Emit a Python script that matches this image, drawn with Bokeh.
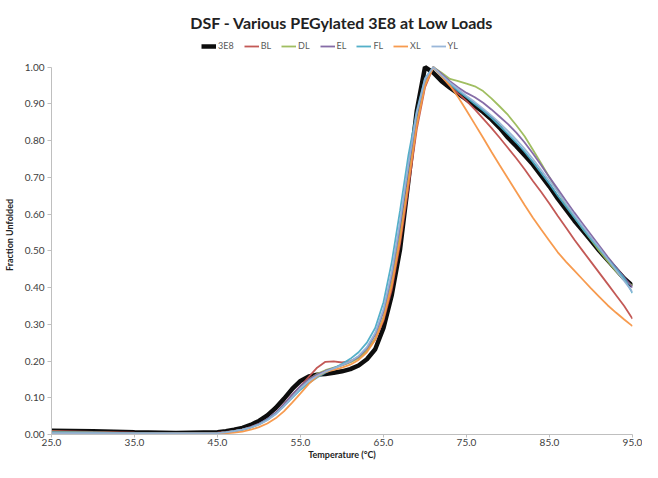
from bokeh.plotting import figure
from bokeh.models import Range1d, NumeralTickFormatter, FixedTicker, Legend, LegendItem
from bokeh.embed import file_html
from bokeh.resources import INLINE

temperature = [25, 30, 35, 40, 45,
               46, 47, 48, 49, 50, 51, 52, 53, 54, 55,
               56, 57, 58, 59, 60, 61, 62, 63, 64, 65,
               66, 67, 68, 69, 70, 71, 72, 73, 74, 75,
               76, 77, 78, 79, 80, 81, 82, 83, 84, 85,
               86, 87, 88, 89, 90, 91, 92, 93, 94, 95]

s_3E8 = [0.010, 0.009, 0.006, 0.004, 0.006,
         0.009, 0.013, 0.018, 0.026, 0.037, 0.052, 0.072, 0.097, 0.124, 0.146,
         0.158, 0.163, 0.165, 0.168, 0.172, 0.178, 0.188, 0.205, 0.232, 0.290,
         0.380, 0.505, 0.690, 0.880, 1.000, 0.985, 0.962, 0.944, 0.928, 0.912,
         0.895, 0.878, 0.858, 0.835, 0.808, 0.785, 0.760, 0.735, 0.705, 0.675,
         0.642, 0.612, 0.582, 0.555, 0.528, 0.500, 0.475, 0.450, 0.425, 0.405]

s_BL = [0.010, 0.007, 0.005, 0.004, 0.005,
        0.007, 0.010, 0.014, 0.020, 0.029, 0.041, 0.058, 0.082, 0.108, 0.132,
        0.157, 0.182, 0.198, 0.199, 0.196, 0.200, 0.210, 0.228, 0.258, 0.310,
        0.395, 0.520, 0.670, 0.830, 0.945, 1.000, 0.975, 0.950, 0.928, 0.908,
        0.885, 0.860, 0.835, 0.808, 0.780, 0.752, 0.722, 0.690, 0.660, 0.628,
        0.595, 0.563, 0.530, 0.500, 0.470, 0.440, 0.410, 0.380, 0.350, 0.315]

s_DL = [0.008, 0.006, 0.004, 0.003, 0.004,
        0.006, 0.009, 0.013, 0.019, 0.028, 0.040, 0.057, 0.080, 0.106, 0.130,
        0.150, 0.165, 0.175, 0.182, 0.188, 0.196, 0.208, 0.228, 0.262, 0.320,
        0.415, 0.545, 0.700, 0.850, 0.955, 1.000, 0.985, 0.968, 0.962, 0.955,
        0.948, 0.935, 0.915, 0.893, 0.870, 0.842, 0.812, 0.775, 0.738, 0.700,
        0.662, 0.625, 0.592, 0.560, 0.530, 0.500, 0.472, 0.445, 0.420, 0.405]

s_EL = [0.006, 0.005, 0.004, 0.003, 0.004,
        0.006, 0.009, 0.013, 0.020, 0.029, 0.042, 0.059, 0.082, 0.108, 0.132,
        0.150, 0.163, 0.173, 0.181, 0.189, 0.198, 0.212, 0.235, 0.272, 0.335,
        0.435, 0.570, 0.725, 0.870, 0.965, 1.000, 0.982, 0.962, 0.945, 0.930,
        0.918, 0.903, 0.885, 0.865, 0.845, 0.822, 0.795, 0.765, 0.733, 0.700,
        0.668, 0.636, 0.604, 0.574, 0.544, 0.514, 0.484, 0.456, 0.428, 0.400]

s_FL = [0.006, 0.005, 0.004, 0.003, 0.004,
        0.006, 0.009, 0.013, 0.019, 0.028, 0.040, 0.056, 0.077, 0.100, 0.122,
        0.140, 0.155, 0.168, 0.180, 0.192, 0.206, 0.224, 0.250, 0.290, 0.360,
        0.470, 0.610, 0.760, 0.880, 0.970, 1.000, 0.975, 0.955, 0.935, 0.918,
        0.900, 0.882, 0.862, 0.840, 0.818, 0.795, 0.770, 0.742, 0.712, 0.682,
        0.650, 0.620, 0.590, 0.560, 0.532, 0.505, 0.478, 0.452, 0.425, 0.385]

s_XL = [0.002, 0.002, 0.002, 0.002, 0.002,
        0.003, 0.005, 0.008, 0.013, 0.020, 0.030, 0.044, 0.063, 0.087, 0.112,
        0.138, 0.158, 0.170, 0.176, 0.182, 0.190, 0.203, 0.224, 0.258, 0.315,
        0.405, 0.530, 0.685, 0.840, 0.950, 1.000, 0.975, 0.950, 0.918, 0.882,
        0.845, 0.808, 0.770, 0.733, 0.697, 0.661, 0.625, 0.590, 0.558, 0.527,
        0.496, 0.470, 0.446, 0.422, 0.398, 0.375, 0.352, 0.332, 0.313, 0.295]

s_YL = [0.004, 0.004, 0.003, 0.003, 0.004,
        0.006, 0.009, 0.013, 0.019, 0.027, 0.039, 0.055, 0.077, 0.102, 0.126,
        0.146, 0.160, 0.171, 0.180, 0.189, 0.199, 0.214, 0.238, 0.277, 0.342,
        0.445, 0.582, 0.735, 0.875, 0.968, 1.000, 0.978, 0.958, 0.940, 0.922,
        0.905, 0.887, 0.868, 0.848, 0.826, 0.803, 0.778, 0.750, 0.720, 0.690,
        0.660, 0.628, 0.597, 0.567, 0.537, 0.508, 0.478, 0.448, 0.418, 0.388]

series_names = ["3E8", "BL", "DL", "EL", "FL", "XL", "YL"]
series_values = [s_3E8, s_BL, s_DL, s_EL, s_FL, s_XL, s_YL]
series_colors = ["#000000", "#C0504D", "#9BBB59", "#8064A2", "#4BACC6", "#F79646", "#95B3D7"]
series_widths = [4.5, 1.8, 1.8, 1.8, 1.8, 1.8, 1.8]

x_ticks = [25, 35, 45, 55, 65, 75, 85, 95]
y_ticks = [0.0, 0.1, 0.2, 0.3, 0.4, 0.5, 0.6, 0.7, 0.8, 0.9, 1.0]

FONT = "Lato"
TXT = "#404040"

p = figure(width=642, height=462, output_backend="svg", toolbar_location=None,
           x_range=Range1d(25, 95), y_range=Range1d(0, 1.0863),
           min_border_left=40, min_border_right=10, min_border_top=35, min_border_bottom=20)

p.title.text = "DSF - Various PEGylated 3E8 at Low Loads"
p.title.align = "center"
p.title.text_font = FONT
p.title.text_font_size = "16px"
p.title.text_font_style = "bold"
p.title.text_color = "#222222"
p.title.offset = 0
p.title.standoff = 7

items = []
for name, vals, col, w in zip(series_names, series_values, series_colors, series_widths):
    r = p.line(temperature, vals, line_color=col, line_width=w, line_alpha=0.95)
    items.append(LegendItem(label=name, renderers=[r]))

legend = Legend(items=items, orientation="horizontal", location=(150, 383),
                label_text_font=FONT, label_text_font_size="9px", label_text_color="#595959",
                glyph_width=15, glyph_height=8, label_standoff=2, spacing=10,
                padding=0, margin=0, border_line_color=None, background_fill_alpha=0,
                label_height=10, label_width=8)
p.add_layout(legend, "center")

p.xgrid.visible = False
p.ygrid.visible = False
p.outline_line_color = None

for ax in (p.xaxis[0], p.yaxis[0]):
    ax.axis_line_color = "#BFBFBF"
    ax.major_tick_line_color = "#BFBFBF"
    ax.minor_tick_line_color = None
    ax.major_tick_out = 4
    ax.major_tick_in = 0
    ax.major_label_text_font = FONT
    ax.major_label_text_font_size = "10px"
    ax.major_label_text_color = TXT
    ax.major_label_text_line_height = 1.0
    ax.axis_label_text_font = FONT
    ax.axis_label_text_font_size = "9px"
    ax.axis_label_text_font_style = "bold"
    ax.axis_label_text_color = "#222222"
    ax.axis_label_text_line_height = 1.0

p.xaxis.ticker = FixedTicker(ticks=x_ticks)
p.xaxis.formatter = NumeralTickFormatter(format="0.0")
p.xaxis.axis_label = "Temperature (°C)"
p.xaxis.major_tick_out = 3
p.xaxis.major_label_standoff = 1
p.xaxis.axis_label_standoff = 0

p.yaxis.ticker = FixedTicker(ticks=y_ticks)
p.yaxis.bounds = (0, 1)
p.yaxis.formatter = NumeralTickFormatter(format="0.00")
p.yaxis.axis_label = "Fraction Unfolded"
p.yaxis.major_label_standoff = 3
p.yaxis.axis_label_standoff = 7

open("out.html", "w").write(file_html(p, INLINE))
